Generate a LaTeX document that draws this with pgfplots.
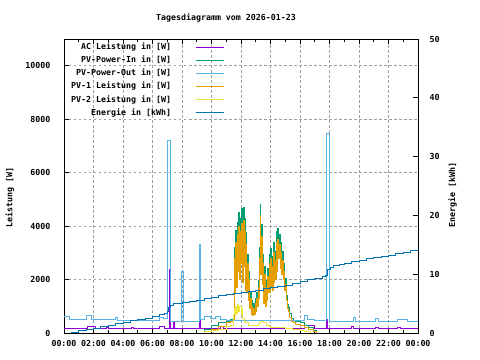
\documentclass[border=0pt]{standalone}
\usepackage{pgfplots}
\pgfplotsset{compat=1.18}
\usepackage{fontspec}
\setmainfont{DejaVu Sans Mono}
\definecolor{cAC}{HTML}{9400D3}
\definecolor{cIn}{HTML}{009E73}
\definecolor{cOut}{HTML}{56B4E9}
\definecolor{cPV1}{HTML}{E69F00}
\definecolor{cPV2}{HTML}{F0E442}
\definecolor{cE}{HTML}{0072B2}
\begin{document}
\begin{tikzpicture}[font=\fontsize{8.3bp}{10bp}\selectfont\bfseries]
\path[use as bounding box] (-64bp,-27bp) rectangle (416bp,333bp);
\begin{axis}[
  at={(0,0)}, anchor=south west, scale only axis,
  width=354bp, height=294bp,
  xmin=0, xmax=24, ymin=0, ymax=11000,
  xtick={0,2,...,24},
  xticklabels={00:00,02:00,04:00,06:00,08:00,10:00,12:00,14:00,16:00,18:00,20:00,22:00,00:00},
  minor x tick num=1,
  ytick={0,2000,4000,6000,8000,10000}, ytick pos=left,
  tick align=inside, major tick length=5bp, minor tick length=3bp,
  tick style={black, line width=0.8bp},
  grid=major,
  major grid style={gray!75, dash pattern=on 2.5bp off 2.5bp, line width=0.8bp},
  axis line style={line width=0.8bp},
  scaled y ticks=false,
  /pgf/number format/assume math mode=true,
  /pgf/number format/set thousands separator={},
  yticklabel style={xshift=-10bp},
  xticklabel style={yshift=-4bp},
  ylabel={Leistung [W]},
  ylabel style={at={(axis description cs:-0.153,0.46)}, anchor=center},
  legend style={draw=none, fill=none, at={(axis description cs:0,1)}, anchor=north west,
    xshift=7bp, yshift=-4.5bp, inner sep=0pt, row sep=5.6bp,
    nodes={inner sep=0pt, text height=6bp, text depth=1.5bp}},
  legend cell align=right, legend plot pos=right,
  legend image code/.code={\path (-24bp,0bp); \draw[#1, line width=1bp] (0bp,0bp) -- (28bp,0bp);},
  every axis plot/.append style={const plot, line width=0.9bp},
]
\addplot[color=cAC] coordinates {(0,170)(1.6,260)(2.1,170)(2.9,220)(3.0,170)(4.6,210)(4.7,170)(6.5,260)(6.8,180)(7.12,2360)(7.22,170)(7.45,420)(7.52,170)(9.15,1100)(9.25,170)(10.6,230)(10.8,170)(16.3,280)(17.0,170)(17.76,520)(17.84,170)(19.5,230)(19.6,170)(21.1,220)(21.3,170)(22.6,210)(22.8,170)(24,170)};
\addlegendentry{AC Leistung in [W]}
\addplot[color=cIn] coordinates {(9.2,0)(9.5,120)(10.0,280)(10.5,380)(11.0,450)(11.3,520)(11.50,580)(11.55,3200)(11.60,1750)(11.65,3850)(11.70,1950)(11.75,4150)(11.80,2650)(11.85,4500)(11.90,2300)(11.95,4300)(12.00,3000)(12.05,4650)(12.10,2200)(12.15,4700)(12.20,2850)(12.25,4300)(12.30,1850)(12.35,3750)(12.40,1750)(12.45,2950)(12.50,1400)(12.55,2300)(12.60,1050)(12.65,1500)(12.70,850)(12.75,1200)(12.80,800)(12.85,1100)(12.90,850)(12.95,1300)(13.00,950)(13.05,1500)(13.10,1200)(13.15,1950)(13.20,1500)(13.25,3200)(13.30,4800)(13.35,2500)(13.40,4050)(13.45,2100)(13.50,2950)(13.55,1300)(13.60,2500)(13.65,1200)(13.70,1950)(13.75,1400)(13.80,2400)(13.85,1750)(13.90,2950)(13.95,1750)(14.00,3150)(14.05,1950)(14.10,2850)(14.15,1850)(14.20,3400)(14.25,2200)(14.30,3050)(14.35,2300)(14.40,3800)(14.45,2600)(14.50,3900)(14.55,3150)(14.60,3700)(14.65,2750)(14.70,3400)(14.75,2500)(14.80,3050)(14.85,2300)(14.90,2600)(14.95,1850)(15.00,2050)(15.05,1500)(15.10,1400)(15.15,1050)(15.20,950)(15.30,720)(15.40,560)(15.55,480)(15.70,430)(16.0,380)(16.3,300)(16.6,200)(16.9,100)(17.1,0)(17.2,0)};
\addlegendentry{PV-Power-In in [W]}
\addplot[color=cOut] coordinates {(0,620)(0.4,490)(1.54,640)(1.88,510)(3.46,580)(3.6,480)(6.5,600)(6.75,540)(7.03,7200)(7.2,3800)(7.25,450)(7.95,2300)(8.1,420)(9.15,3320)(9.22,500)(9.5,620)(9.9,560)(10.3,620)(10.6,520)(11.0,470)(16.3,670)(16.5,520)(17.0,460)(17.76,7450)(18.03,430)(19.6,600)(19.75,450)(21.1,540)(21.3,450)(22.6,520)(23.3,430)(24,410)};
\addlegendentry{PV-Power-Out in [W]}
\addplot[color=cPV1] coordinates {(9.2,0)(9.5,60)(10.0,150)(10.5,250)(11.0,380)(11.3,420)(11.50,500)(11.55,2800)(11.60,1500)(11.65,3400)(11.70,1700)(11.75,3700)(11.80,2300)(11.85,4000)(11.90,2000)(11.95,3800)(12.00,2600)(12.05,4100)(12.10,1900)(12.15,4200)(12.20,2500)(12.25,3800)(12.30,1600)(12.35,3300)(12.40,1500)(12.45,2600)(12.50,1200)(12.55,2000)(12.60,900)(12.65,1300)(12.70,700)(12.75,1000)(12.80,650)(12.85,900)(12.90,700)(12.95,1100)(13.00,800)(13.05,1300)(13.10,1000)(13.15,1700)(13.20,1300)(13.25,2800)(13.30,4400)(13.35,2200)(13.40,3600)(13.45,1800)(13.50,2600)(13.55,1100)(13.60,2200)(13.65,1000)(13.70,1700)(13.75,1200)(13.80,2100)(13.85,1500)(13.90,2600)(13.95,1500)(14.00,2800)(14.05,1700)(14.10,2500)(14.15,1600)(14.20,3000)(14.25,1900)(14.30,2700)(14.35,2000)(14.40,3400)(14.45,2300)(14.50,3500)(14.55,2800)(14.60,3300)(14.65,2400)(14.70,3000)(14.75,2200)(14.80,2700)(14.85,2000)(14.90,2300)(14.95,1600)(15.00,1800)(15.05,1300)(15.10,1200)(15.15,900)(15.20,800)(15.30,600)(15.40,450)(15.55,380)(15.70,330)(16.0,280)(16.3,200)(16.6,120)(16.9,60)(17.1,0)(17.2,0)};
\addlegendentry{PV-1 Leistung in [W]}
\addplot[color=cPV2] coordinates {(9.2,0)(9.5,40)(10.0,100)(10.5,150)(11.0,230)(11.3,280)(11.45,300)(11.5,700)(11.55,900)(11.6,650)(11.65,1000)(11.7,750)(11.75,1050)(11.8,800)(11.9,1000)(12.0,700)(12.05,900)(12.1,550)(12.2,450)(12.3,380)(12.5,300)(12.8,280)(13.0,300)(13.2,350)(13.35,450)(13.5,380)(13.7,300)(13.9,250)(14.0,220)(14.5,200)(15.0,160)(15.5,140)(16.0,100)(16.3,60)(16.7,0)(17.0,0)};
\addlegendentry{PV-2 Leistung in [W]}
\addlegendimage{color=cE}
\addlegendentry{Energie in [kWh]}
\end{axis}
\begin{axis}[
  at={(0,0)}, anchor=south west, scale only axis,
  width=354bp, height=294bp,
  xmin=0, xmax=24, ymin=0, ymax=50,
  axis x line=none, axis y line*=right,
  ytick={0,10,20,30,40,50},
  tick align=inside, major tick length=5bp,
  tick style={black, line width=0.8bp},
  axis line style={line width=0.8bp},
  /pgf/number format/assume math mode=true,
  yticklabel style={xshift=8bp},
  ylabel={Energie [kWh]},
  ylabel style={at={(axis description cs:1.098,0.471)}, anchor=center},
]
\addplot[color=cE, const plot, line width=1bp] coordinates {(0,0)(0.5,0.15)(1.0,0.35)(1.5,0.55)(2.0,0.85)(2.5,1.05)(3.0,1.3)(3.5,1.55)(4.0,1.8)(4.5,2.05)(5.0,2.3)(5.5,2.55)(6.0,2.8)(6.5,3.1)(6.8,3.35)(7.0,3.6)(7.1,4.4)(7.25,4.7)(7.4,5.0)(7.7,5.1)(8.0,5.25)(8.5,5.4)(9.0,5.6)(9.5,5.9)(10.0,6.1)(10.5,6.35)(11.0,6.55)(11.5,6.75)(12.0,6.9)(12.5,7.05)(13.0,7.25)(13.5,7.5)(14.0,7.75)(14.5,7.95)(15.0,8.15)(15.5,8.4)(16.0,8.7)(16.5,9.05)(17.0,9.3)(17.5,9.6)(17.76,9.8)(17.85,10.8)(18.05,11.2)(18.3,11.4)(18.7,11.7)(19.0,11.9)(19.5,12.1)(20.0,12.35)(20.5,12.6)(21.0,12.8)(21.5,13.0)(22.0,13.25)(22.5,13.5)(23.0,13.75)(23.5,14.0)(24.0,14.2)};
\end{axis}
\node at (162bp,315bp) {Tagesdiagramm vom 2026-01-23};
\end{tikzpicture}
\end{document}
